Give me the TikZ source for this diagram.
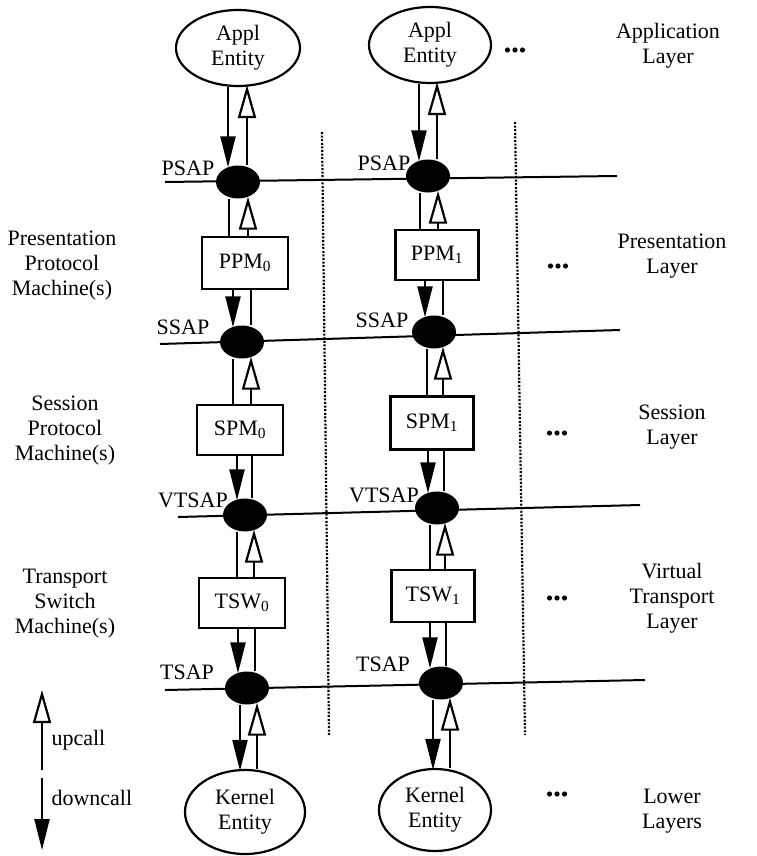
\documentclass[tikz,border=0pt]{standalone}
\usepackage{fontspec}
\setmainfont{Liberation Serif}
\usetikzlibrary{shapes.geometric,arrows.meta,calc}
\newcommand\vconn[4]{\draw[#1] let \p1=(#2), \p2=(#3) in (#4,\y1) -- (#4,\y2);}
\newcommand\moredots{\tikz[baseline=-2.5pt]{\fill (0,0) circle (2.6pt) (7.5pt,0) circle (2.6pt) (15pt,0) circle (2.6pt);}}
\begin{document}
\begin{tikzpicture}[x=1pt,y=-1pt,
  every node/.style={font=\fontsize{22}{25}\selectfont},
  entity/.style={ellipse, draw, line width=2.2pt, align=center, inner sep=0pt},
  machine/.style={rectangle, draw, line width=2.2pt, minimum width=86pt, minimum height=52pt, inner sep=0pt},
  sap/.style={ellipse, fill=black, minimum width=44pt, minimum height=33pt, inner sep=0pt},
  conn/.style={line width=2.2pt},
  dn/.style={conn, shorten >=-2pt, -{Triangle[length=31pt,width=15pt]}},
  up/.style={conn, shorten >=-2pt, -{Triangle[open,length=33pt,width=18pt]}},
  sapline/.style={line width=2pt},
  sep/.style={line width=2.2pt, dash pattern=on 2pt off 1.6pt},
  lbl/.style={align=center},
  more/.style={inner sep=0pt},
]
\useasboundingbox (0,0) rectangle (757,856);

% separators
\coordinate (s1t) at (322,132); \coordinate (s1b) at (329,735);
\coordinate (s2t) at (515,122); \coordinate (s2b) at (525,735);
\draw[sep] (s1t) -- (s1b);
\draw[sep] (s2t) -- (s2b);

% service access point lines
\coordinate (pL) at (165,182); \coordinate (pR) at (617,176);
\coordinate (sL) at (160,344); \coordinate (sR) at (620,330);
\coordinate (vL) at (178,517); \coordinate (vR) at (640,505);
\coordinate (tL) at (165,690); \coordinate (tR) at (645,680);
\draw[sapline] (pL) -- (pR);
\draw[sapline] (sL) -- (sR);
\draw[sapline] (vL) -- (vR);
\draw[sapline] (tL) -- (tR);

% column 0
\node[entity, minimum width=124pt, minimum height=76pt] (appl1) at (238,48) {Appl\\Entity};
\node[sap] (psap1) at (238,182) {};
\node[machine] (ppm0) at (245,263) {PPM\textsubscript{0}};
\node[sap] (ssap1) at (242,342) {};
\node[machine, minimum height=50pt] (spm0) at (240,430) {SPM\textsubscript{0}};
\node[sap] (vtsap1) at (245,515) {};
\node[machine, minimum height=50pt] (tsw0) at (242,603) {TSW\textsubscript{0}};
\node[sap] (tsap1) at (247,688) {};
\node[entity, minimum width=120pt, minimum height=84pt] (kernel1) at (245,812) {Kernel\\Entity};

% column 1
\node[entity, minimum width=122pt, minimum height=76pt] (appl2) at (430,45) {Appl\\Entity};
\node[sap] (psap2) at (428,176) {};
\node[machine, minimum width=83pt, minimum height=50pt] (ppm1) at (437,255) {PPM\textsubscript{1}};
\node[sap] (ssap2) at (434,332) {};
\node[machine, minimum width=83pt, minimum height=53pt] (spm1) at (432,423) {SPM\textsubscript{1}};
\node[sap] (vtsap2) at (437,508) {};
\node[machine, minimum width=83pt, minimum height=52pt] (tsw1) at (433,596) {TSW\textsubscript{1}};
\node[sap] (tsap2) at (441,683) {};
\node[entity, minimum width=112pt, minimum height=82pt] (kernel2) at (435,810) {Kernel\\Entity};

% SAP labels
\node (lp1) at (188,168) {PSAP};
\node (ls1) at (183,327) {SSAP};
\node (lv1) at (193,500) {VTSAP};
\node (lt1) at (187,672) {TSAP};
\node (lp2) at (384,163) {PSAP};
\node (ls2) at (382,320) {SSAP};
\node (lv2) at (384,495) {VTSAP};
\node (lt2) at (383,664) {TSAP};

% column 0 connectors
\vconn{dn}{appl1.south}{psap1.north}{228}
\vconn{up}{psap1.north}{appl1.south}{247}
\vconn{conn}{psap1.south}{ppm0.north}{229}
\vconn{up}{ppm0.north}{psap1.south}{248}
\vconn{dn}{ppm0.south}{ssap1.north}{233}
\vconn{conn}{ppm0.south}{ssap1.north}{251}
\vconn{conn}{ssap1.south}{spm0.north}{233}
\vconn{up}{spm0.north}{ssap1.south}{251}
\vconn{dn}{spm0.south}{vtsap1.north}{237}
\vconn{conn}{spm0.south}{vtsap1.north}{252}
\vconn{conn}{vtsap1.south}{tsw0.north}{237}
\vconn{up}{tsw0.north}{vtsap1.south}{254}
\vconn{dn}{tsw0.south}{tsap1.north}{238}
\vconn{conn}{tsw0.south}{tsap1.north}{255}
\vconn{dn}{tsap1.south}{kernel1.north}{240}
\vconn{up}{kernel1.north}{tsap1.south}{257}

% column 1 connectors
\vconn{dn}{appl2.south}{psap2.north}{419}
\vconn{up}{psap2.north}{appl2.south}{437}
\vconn{conn}{psap2.south}{ppm1.north}{420}
\vconn{up}{ppm1.north}{psap2.south}{438}
\vconn{dn}{ppm1.south}{ssap2.north}{425}
\vconn{conn}{ppm1.south}{ssap2.north}{443}
\vconn{conn}{ssap2.south}{spm1.north}{427}
\vconn{up}{spm1.north}{ssap2.south}{443}
\vconn{dn}{spm1.south}{vtsap2.north}{428}
\vconn{conn}{spm1.south}{vtsap2.north}{444}
\vconn{conn}{vtsap2.south}{tsw1.north}{430}
\vconn{up}{tsw1.north}{vtsap2.south}{445}
\vconn{dn}{tsw1.south}{tsap2.north}{430}
\vconn{conn}{tsw1.south}{tsap2.north}{446}
\vconn{dn}{tsap2.south}{kernel2.north}{433}
\vconn{up}{kernel2.north}{tsap2.south}{450}

% more columns
\node[more] (m1) at (515,50) {\moredots};
\node[more] (m2) at (558,266) {\moredots};
\node[more] (m3) at (557,433) {\moredots};
\node[more] (m4) at (557,598) {\moredots};
\node[more] (m5) at (557,794) {\moredots};

% layer names
\node[lbl] (la) at (668,46) {Application\\Layer};
\node[lbl] (lpr) at (672,256) {Presentation\\Layer};
\node[lbl] (lse) at (672,427) {Session\\Layer};
\node[lbl] (lvt) at (672,598) {Virtual\\Transport\\Layer};
\node[lbl] (llo) at (672,811) {Lower\\Layers};

% machine names
\node[lbl] (mp) at (62,266) {Presentation\\Protocol\\Machine(s)};
\node[lbl] (ms) at (65,431) {Session\\Protocol\\Machine(s)};
\node[lbl] (mt) at (65,604) {Transport\\Switch\\Machine(s)};

% legend
\coordinate (ub) at (42,770); \coordinate (ut) at (42,690);
\coordinate (db) at (42,778); \coordinate (dt) at (42,850);
\draw[up, shorten >=0pt] (ub) -- (ut);
\draw[dn, shorten >=0pt] (db) -- (dt);
\node[anchor=west] (uc) at (48,740) {upcall};
\node[anchor=west] (dc) at (48,798) {downcall};
\end{tikzpicture}
\end{document}
